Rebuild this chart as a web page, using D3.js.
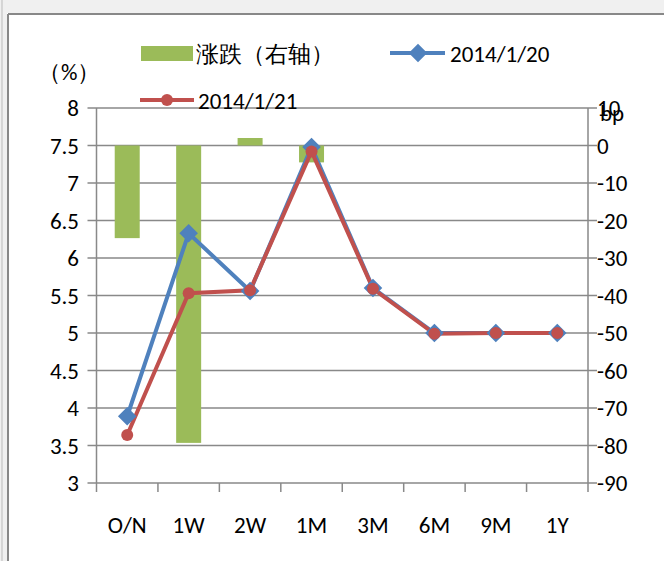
<!DOCTYPE html>
<html><head><meta charset="utf-8">
<script src="https://cdn.jsdelivr.net/npm/d3@7"></script>
<style>body{margin:0;background:#fff}text{font-family:"Carlito","Liberation Sans",sans-serif}</style>
</head><body><div id="chart"></div>
<script>
const categories = ["O/N", "1W", "2W", "1M", "3M", "6M", "9M", "1Y"];
const rate0120 = [3.89, 6.33, 5.56, 7.48, 5.60, 5.00, 5.00, 5.00];
const rate0121 = [3.64, 5.53, 5.57, 7.42, 5.59, 4.99, 5.00, 5.00];
const change = [-24.7, -79.3, 2, -4.5, 0, 0, 0, 0];
const leftTicks = [3, 3.5, 4, 4.5, 5, 5.5, 6, 6.5, 7, 7.5, 8];
const rightTicks = [-90, -80, -70, -60, -50, -40, -30, -20, -10, 0, 10];

const W = 664, H = 561, FS = 23;
const svg = d3.select("#chart").append("svg").attr("width", W).attr("height", H);

// frame
svg.append("rect").attr("width", W).attr("height", 13).attr("fill", "#f0f0f0");
svg.append("rect").attr("width", 7).attr("height", H).attr("fill", "#f0f0f0");
svg.append("line").attr("x1", 8).attr("x2", W).attr("y1", 14).attr("y2", 14).attr("stroke", "#888").attr("stroke-width", 2);
svg.append("line").attr("x1", 8).attr("x2", 8).attr("y1", 14).attr("y2", H).attr("stroke", "#888").attr("stroke-width", 2);
svg.append("line").attr("x1", 2).attr("x2", 2).attr("y1", 0).attr("y2", H).attr("stroke", "#bbb").attr("stroke-width", 1);

const x0 = 96.5, x1 = 588, yTop = 108, yBot = 483;
const x = d3.scaleBand().domain(categories).range([x0, x1]);
const yL = d3.scaleLinear().domain([3, 8]).range([yBot, yTop]);
const yR = d3.scaleLinear().domain([-90, 10]).range([yBot, yTop]);

// gridlines
svg.append("g").selectAll("line").data(leftTicks).join("line")
  .attr("x1", x0 - 9).attr("x2", x1 + 9).attr("y1", d => yL(d)).attr("y2", d => yL(d))
  .attr("stroke", "#898989").attr("stroke-width", 1.5);

// bars
svg.append("g").selectAll("rect").data(change).join("rect")
  .attr("x", (d, i) => x(categories[i]) + x.bandwidth() / 2 - 12.5)
  .attr("width", 25)
  .attr("y", d => yR(Math.max(0, d)))
  .attr("height", d => Math.abs(yR(d) - yR(0)))
  .attr("fill", "#9bbb59");

// axes lines
svg.append("line").attr("x1", x0).attr("x2", x0).attr("y1", yTop).attr("y2", yBot).attr("stroke", "#898989").attr("stroke-width", 1.5);
svg.append("line").attr("x1", x1).attr("x2", x1).attr("y1", yTop).attr("y2", yBot).attr("stroke", "#898989").attr("stroke-width", 1.5);
svg.append("g").selectAll("line").data(categories.concat(["end"])).join("line")
  .attr("x1", (d, i) => x0 + i * x.step()).attr("x2", (d, i) => x0 + i * x.step())
  .attr("y1", yBot).attr("y2", yBot + 9).attr("stroke", "#898989").attr("stroke-width", 1.5);

// tick labels
svg.append("g").selectAll("text").data(leftTicks).join("text")
  .attr("x", 79).attr("y", d => yL(d) + 8).attr("text-anchor", "end")
  .attr("font-size", FS).text(d => d);
svg.append("g").selectAll("text").data(rightTicks).join("text")
  .attr("x", 597).attr("y", d => yR(d) + 8)
  .attr("font-size", FS).text(d => d);
svg.append("g").selectAll("text").data(categories).join("text")
  .attr("x", d => x(d) + x.bandwidth() / 2).attr("y", 533).attr("text-anchor", "middle")
  .attr("font-size", FS).text(d => d);
svg.append("text").attr("x", 38).attr("y", 80).attr("font-size", FS).text("（%）");
svg.append("text").attr("x", 600).attr("y", 121).attr("font-size", FS).text("bp");

// lines
const line = d3.line().x((d, i) => x(categories[i]) + x.bandwidth() / 2).y(d => yL(d));
svg.append("path").attr("d", line(rate0120)).attr("fill", "none").attr("stroke", "#4f81bd").attr("stroke-width", 4);
svg.append("path").attr("d", line(rate0121)).attr("fill", "none").attr("stroke", "#c0504d").attr("stroke-width", 4);
const diamond = d3.symbol().type(d3.symbolDiamond2).size(220);
svg.append("g").selectAll("path").data(rate0120).join("path")
  .attr("transform", (d, i) => `translate(${x(categories[i]) + x.bandwidth() / 2},${yL(d)})`)
  .attr("d", diamond).attr("fill", "#4f81bd");
svg.append("g").selectAll("circle").data(rate0121).join("circle")
  .attr("cx", (d, i) => x(categories[i]) + x.bandwidth() / 2).attr("cy", d => yL(d))
  .attr("r", 6).attr("fill", "#c0504d");

// legend
svg.append("rect").attr("x", 141).attr("y", 46).attr("width", 52).attr("height", 15).attr("fill", "#9bbb59");
svg.append("text").attr("x", 196).attr("y", 62).attr("font-size", FS).text("涨跌（右轴）");
svg.append("line").attr("x1", 390).attr("x2", 445).attr("y1", 53).attr("y2", 53).attr("stroke", "#4f81bd").attr("stroke-width", 4);
svg.append("path").attr("transform", "translate(418,53)").attr("d", diamond).attr("fill", "#4f81bd");
svg.append("text").attr("x", 450).attr("y", 62).attr("font-size", FS).text("2014/1/20");
svg.append("line").attr("x1", 140).attr("x2", 194).attr("y1", 100).attr("y2", 100).attr("stroke", "#c0504d").attr("stroke-width", 4);
svg.append("circle").attr("cx", 167).attr("cy", 100).attr("r", 6).attr("fill", "#c0504d");
svg.append("text").attr("x", 198).attr("y", 109).attr("font-size", FS).text("2014/1/21");
</script></body></html>
